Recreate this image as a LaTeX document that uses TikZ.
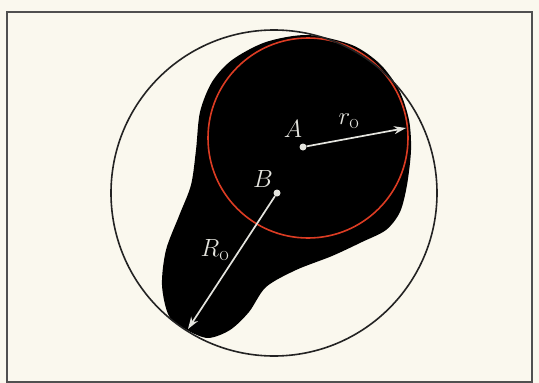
\documentclass[tikz,border=0pt]{standalone}
\usepackage{amsmath}
\usepackage{tikz}
\usetikzlibrary{arrows.meta}

\definecolor{paper}{RGB}{250,248,238}
\definecolor{ink}{RGB}{35,35,35}
\definecolor{frameink}{RGB}{80,80,80}
\definecolor{rim}{RGB}{220,60,35}
\definecolor{chalk}{RGB}{228,228,222}

\begin{document}
\begin{tikzpicture}[
            x=1pt, y=-1pt,
            >={Stealth[length=12pt,width=8pt]},
            radius arrow/.style={chalk, line width=1.7pt, ->},
            dot/.style={circle, fill=chalk, inner sep=0pt, minimum size=7pt},
            lbl/.style={text=chalk, font=\Huge, inner sep=1pt}
        ]
            \useasboundingbox (0,0) rectangle (539,383);
            \fill[paper] (0,0) rectangle (539,383);
            \draw[frameink, line width=1.6pt] (7,12) rectangle (532,382);

            \fill[black] plot[smooth cycle, tension=0.5] coordinates {
                (308,35) (352,45) (380,64) (399,90) (409,120) (411,150) (407,185)
                (400,212) (386,230) (362,242) (332,256) (296,270) (266,287) (249,312)
                (230,330) (208,338) (187,330) (169,316) (162,285) (166,250) (179,216)
                (191,185) (196,150) (200,112) (212,82) (232,60) (266,42)};
            \draw[rim, line width=1.6pt] (308,138) circle[radius=100];
            \draw[ink, line width=1.6pt] (274,193) circle[radius=163];

            \node[dot] (A) at (303,147) {};
            \node[dot] (B) at (277,193) {};
            \coordinate (rEnd) at (406,128);
            \coordinate (REnd) at (188,329);
            \draw[radius arrow] (A) -- (rEnd);
            \draw[radius arrow] (B) -- (REnd);

            \node[lbl] (Alab) at (293,129) {$A$};
            \node[lbl] (Blab) at (263,179) {$B$};
            \node[lbl] (rlab) at (349,121) {$r_{\mathrm{o}}$};
            \node[lbl] (Rlab) at (215,250) {$R_{\mathrm{o}}$};
        \end{tikzpicture}
\end{document}
